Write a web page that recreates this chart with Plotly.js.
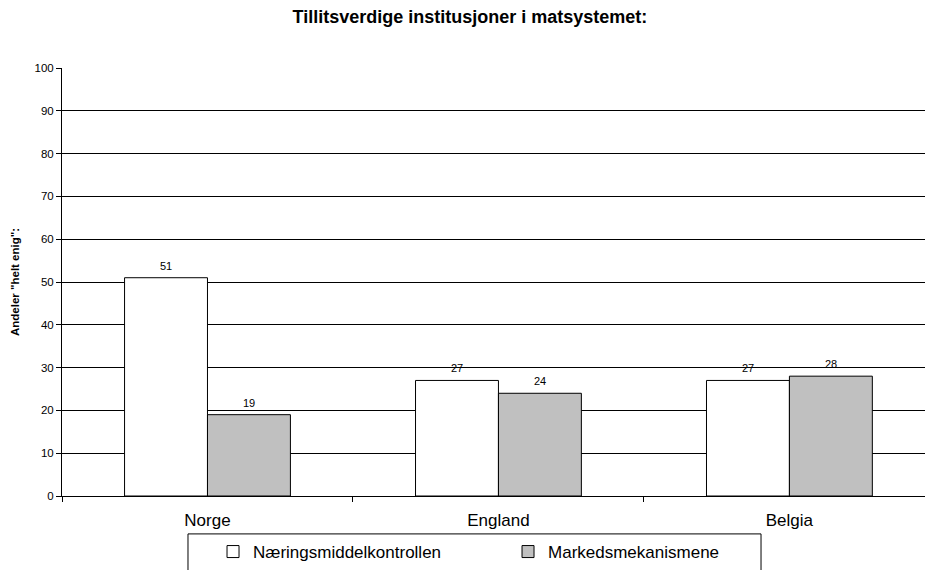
<!DOCTYPE html>
<html>
<head>
<meta charset="utf-8">
<script src="https://cdn.plot.ly/plotly-3.0.1.min.js"></script>
<style>html,body{margin:0;padding:0;background:#fff;}</style>
</head>
<body>
<div id="chart" style="width:925px;height:570px;"></div>
<script>
const categories = ["Norge", "England", "Belgia"];
const seriesNames = ["Næringsmiddelkontrollen", "Markedsmekanismene"];
const naering = [51, 27, 27];
const marked = [19, 24, 28];
const yTicks = [0, 10, 20, 30, 40, 50, 60, 70, 80, 90, 100];

const FONT = "Arial, 'Liberation Sans', sans-serif";

const W = 925, H = 570, ML = 62, MR = 0, MT = 68, MB = 73;
const xRange = [-0.5, 2.466];
const BARGAP = 0.43;
const catPx = (W - ML - MR) / (xRange[1] - xRange[0]);
const barPx = catPx * (1 - BARGAP) / 2;

const traces = [
  {
    type: "bar", name: seriesNames[0], x: categories, y: naering,
    marker: {color: "#ffffff", line: {color: "#000000", width: 1}}
  },
  {
    type: "bar", name: seriesNames[1], x: categories, y: marked,
    marker: {color: "#c0c0c0", line: {color: "#000000", width: 1}}
  }
];

const annotations = [];
[naering, marked].forEach((vals, s) => {
  vals.forEach((v, i) => {
    annotations.push({
      x: categories[i], y: v, xref: "x", yref: "y",
      text: String(v), showarrow: false,
      xanchor: "center", yanchor: "bottom",
      xshift: (s === 0 ? -1 : 1) * barPx / 2, yshift: 4,
      font: {family: FONT, size: 11, color: "#000"}
    });
  });
});

const layout = {
  width: W, height: H,
  margin: {l: ML, r: MR, t: MT, b: MB},
  paper_bgcolor: "#ffffff", plot_bgcolor: "#ffffff",
  font: {family: FONT, color: "#000"},
  title: {text: "<b>Tillitsverdige institusjoner i matsystemet:</b>",
          font: {family: FONT, size: 18, color: "#000"},
          x: 0.508, xanchor: "center", y: 0.97, yanchor: "middle"},
  barmode: "group", bargap: BARGAP, bargroupgap: 0,
  xaxis: {
    type: "category", range: xRange,
    tickson: "boundaries", ticks: "outside", ticklen: 5, tickcolor: "#000",
    ticklabelstandoff: 9,
    showline: true, linecolor: "#000", linewidth: 1, showgrid: false,
    tickfont: {family: FONT, size: 17, color: "#000"},
    fixedrange: true
  },
  yaxis: {
    range: [0, 100], tickvals: yTicks, ticks: "outside", ticklen: 5, tickcolor: "#000",
    showline: true, linecolor: "#000", linewidth: 1,
    showgrid: true, gridcolor: "#000", gridwidth: 1, zeroline: false,
    tickfont: {family: FONT, size: 11.5, color: "#000"},
    title: {text: "<b>Andeler \"helt enig\":</b>", font: {family: FONT, size: 11.5, color: "#000"}, standoff: 12},
    fixedrange: true
  },
  showlegend: true,
  legend: {
    orientation: "h", x: 0.175, xanchor: "left", y: -0.09, yanchor: "top",
    font: {family: FONT, size: 17, color: "#000"},
    entrywidth: 250, entrywidthmode: "pixels",
    bgcolor: "rgba(0,0,0,0)", borderwidth: 0
  },
  annotations: annotations,
  shapes: [{
    type: "rect", xref: "paper", yref: "paper",
    x0: 0.146, x1: 0.810, y0: -0.0886, y1: -0.3,
    line: {color: "#000", width: 1}, fillcolor: "rgba(0,0,0,0)", layer: "below"
  }]
};

Plotly.newPlot("chart", traces, layout, {displayModeBar: false, staticPlot: true});
</script>
</body>
</html>
